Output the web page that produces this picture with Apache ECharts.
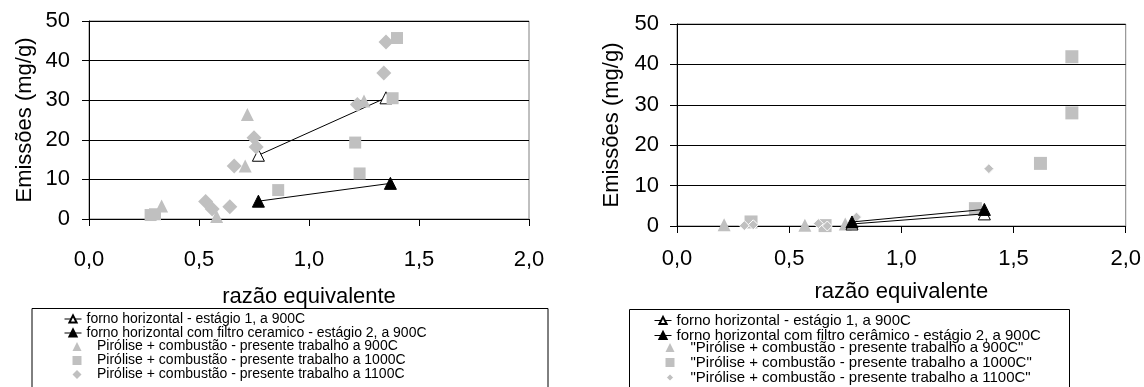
<!DOCTYPE html>
<html>
<head>
<meta charset="utf-8">
<script src="https://cdn.jsdelivr.net/npm/echarts@6/dist/echarts.min.js"></script>
<style>
  html, body { margin: 0; padding: 0; background: #fff; }
  #chart { width: 1144px; height: 387px; }
</style>
</head>
<body>
<div id="chart"></div>
<script>
// dados (razão equivalente, emissões mg/g)
var leftNames = [
    'forno horizontal - estágio 1, a 900C',
    'forno horizontal com filtro ceramico - estágio 2, a 900C',
    'Pirólise + combustão - presente trabalho a 900C',
    'Pirólise + combustão - presente trabalho a 1000C',
    'Pirólise + combustão - presente trabalho a 1100C'
];
var rightNames = [
    'forno horizontal - estágio 1, a 900C',
    'forno horizontal com filtro cerâmico - estágio 2, a 900C',
    '"Pirólise + combustão - presente trabalho a 900C"',
    '"Pirólise + combustão - presente trabalho a 1000C"',
    '"Pirólise + combustão - presente trabalho a 1100C"'
];

var leftForno1 = [[0.77, 16.1], [1.35, 30.6]];
var leftForno2 = [[0.77, 4.5], [1.37, 9.0]];
var left900 = [[0.33, 3.3], [0.58, 0.6], [0.71, 13.4], [0.72, 26.4], [1.25, 29.8]];
var left1000 = [[0.28, 1.0], [0.30, 1.2], [0.86, 7.3], [1.21, 19.3], [1.23, 11.5], [1.38, 30.5], [1.40, 45.7]];
var left1100 = [[0.53, 4.4], [0.56, 2.5], [0.64, 3.1], [0.66, 13.4], [0.75, 20.5], [0.76, 18.2], [1.22, 28.9], [1.34, 36.9], [1.35, 44.7]];

var rightForno1 = [[0.78, 0.5], [1.37, 3.0]];
var rightForno2 = [[0.78, 1.0], [1.37, 4.1]];
var right900 = [[0.21, 0.3], [0.57, 0.2], [0.75, 0.5]];
var right1000 = [[0.33, 1.0], [0.66, 0.1], [1.33, 4.3], [1.62, 15.5], [1.76, 28.0], [1.76, 41.9]];
var right1100 = [[0.30, 0.1], [0.34, 0.3], [0.63, 0.6], [0.67, 0.0], [0.80, 2.2], [1.39, 14.2]];

var xRange = [0, 2, 0.5];
var yRange = [0, 50, 10];

var FONT = 'Liberation Sans, Arial, sans-serif';
var GRAY = '#c0c0c0';

function xAxisCfg(idx, labelMargin, nameGap) {
    return {
        type: 'value', gridIndex: idx,
        min: xRange[0], max: xRange[1], interval: xRange[2],
        name: 'razão equivalente', nameLocation: 'middle', nameGap: nameGap,
        nameTextStyle: { color: '#000', fontSize: 22, fontFamily: FONT },
        axisLine: { show: true, onZero: false, lineStyle: { color: '#000', width: 1 } },
        axisTick: { show: true, inside: false, length: 7, lineStyle: { color: '#000' } },
        axisLabel: {
            color: '#000', fontSize: 22, fontFamily: FONT, margin: labelMargin,
            formatter: function (v) { return v.toFixed(1).replace('.', ','); }
        },
        splitLine: { show: false }
    };
}
function yAxisCfg(idx, labelMargin, nameGap) {
    return {
        type: 'value', gridIndex: idx,
        min: yRange[0], max: yRange[1], interval: yRange[2],
        name: 'Emissões (mg/g)', nameLocation: 'middle', nameGap: nameGap,
        nameTextStyle: { color: '#000', fontSize: 22, fontFamily: FONT },
        axisLine: { show: true, lineStyle: { color: '#000', width: 1 } },
        axisTick: { show: true, inside: false, length: 7, lineStyle: { color: '#000' } },
        axisLabel: { color: '#000', fontSize: 22, fontFamily: FONT, margin: labelMargin },
        splitLine: { show: true, lineStyle: { color: '#000', width: 1 } }
    };
}

function fornoSeries(name, data, idx, filled, z) {
    return {
        name: name, type: 'line', xAxisIndex: idx, yAxisIndex: idx,
        data: data, symbol: 'triangle', symbolSize: 12, z: z,
        lineStyle: { color: '#000', width: 1 },
        itemStyle: { color: filled ? '#000' : '#fff', borderColor: '#000', borderWidth: 1 },
        animation: false
    };
}
function scatterSeries(name, data, idx, symbol, size, border) {
    return {
        name: name, type: 'scatter', xAxisIndex: idx, yAxisIndex: idx,
        data: data, symbol: symbol, symbolSize: size, z: 2,
        itemStyle: { color: GRAY, opacity: 1, borderColor: '#fff', borderWidth: border },
        animation: false
    };
}

function legendText(size) {
    return { color: '#000', fontSize: size, fontFamily: FONT, lineHeight: 13.5 };
}
var legendLine = { color: '#000', width: 1 };

var myChart = echarts.init(document.getElementById('chart'));
var option = {
    backgroundColor: '#fff',
    animation: false,
    grid: [
        { left: 89, top: 21, width: 440, height: 198, show: true, borderColor: '#808080', borderWidth: 1, backgroundColor: '#fff' },
        { left: 677, top: 24, width: 450, height: 202, show: true, borderColor: '#808080', borderWidth: 1, backgroundColor: '#fff' }
    ],
    xAxis: [xAxisCfg(0, 30, 67), xAxisCfg(1, 22, 55)],
    yAxis: [yAxisCfg(0, 19, 53), yAxisCfg(1, 18, 54)],
    legend: [
        {
            orient: 'vertical', left: 64, top: 312, padding: 0, itemGap: 0,
            itemWidth: 17, itemHeight: 9, data: leftNames.slice(0, 2),
            lineStyle: legendLine, textStyle: legendText(14), selectedMode: false
        },
        {
            orient: 'vertical', left: 72.5, top: 339.5, padding: 0, itemGap: 0,
            itemWidth: 9, itemHeight: 9, data: leftNames.slice(2),
            textStyle: Object.assign({ padding: [0, 0, 0, 10.5] }, legendText(14)), selectedMode: false
        },
        {
            orient: 'vertical', left: 654, top: 313, padding: 0, itemGap: 0,
            itemWidth: 17, itemHeight: 9, data: rightNames.slice(0, 2),
            lineStyle: legendLine, textStyle: legendText(15), selectedMode: false
        },
        {
            orient: 'vertical', left: 664.5, top: 340, padding: 0, itemGap: 0,
            itemWidth: 9, itemHeight: 9, data: rightNames.slice(2),
            textStyle: Object.assign({ padding: [0, 0, 0, 11] }, legendText(15)), selectedMode: false
        }
    ],
    graphic: [
        { type: 'rect', shape: { x: 32, y: 308.5, width: 516, height: 100 }, style: { fill: 'none', stroke: '#000', lineWidth: 1 }, z: 0 },
        { type: 'rect', shape: { x: 629.5, y: 309.5, width: 440, height: 100 }, style: { fill: 'none', stroke: '#000', lineWidth: 1 }, z: 0 }
    ],
    series: [
        fornoSeries(leftNames[0], leftForno1, 0, false, 1),
        fornoSeries(leftNames[1], leftForno2, 0, true, 1),
        scatterSeries(leftNames[2], left900, 0, 'triangle', 13, 0),
        scatterSeries(leftNames[3], left1000, 0, 'rect', 12, 0),
        scatterSeries(leftNames[4], left1100, 0, 'diamond', 15, 0),

        scatterSeries(rightNames[2], right900, 1, 'triangle', 13, 0),
        scatterSeries(rightNames[3], right1000, 1, 'rect', 13, 0),
        scatterSeries(rightNames[4], right1100, 1, 'diamond', 10, 1),
        fornoSeries(rightNames[0], rightForno1, 1, false, 3),
        fornoSeries(rightNames[1], rightForno2, 1, true, 3)
    ]
};
myChart.setOption(option);
</script>
</body>
</html>
